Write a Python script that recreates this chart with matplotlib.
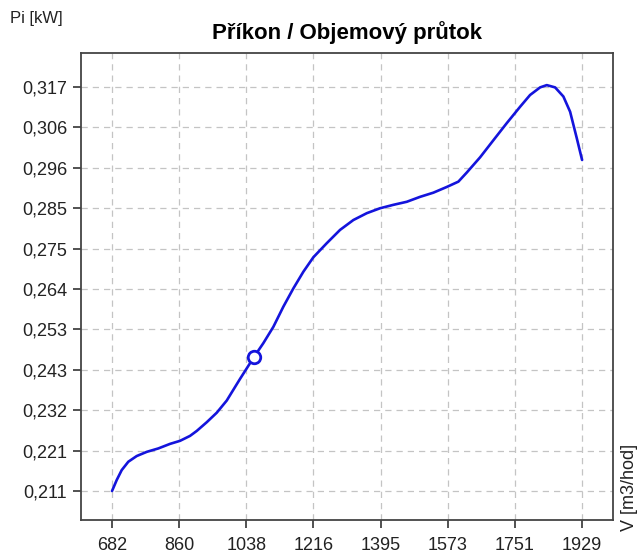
import matplotlib
matplotlib.use("Agg")
import matplotlib.pyplot as plt

plt.rcParams['font.family'] = ['Liberation Sans', 'DejaVu Sans']

# Data
flow = [682, 694.5, 707.7, 725.2, 747.5, 774.1, 804.8, 835.9, 862.4, 888.9,
        906.7, 933.3, 959.8, 986.3, 1012.9, 1021.6, 1058.8, 1083.4, 1110.0,
        1136.5, 1163.0, 1189.6, 1216.1, 1251.6, 1286.9, 1322.2, 1357.8, 1393.1,
        1428.4, 1463.9, 1499.2, 1534.5, 1570.0, 1600.8, 1623.1, 1658.4, 1693.7,
        1729.2, 1764.5, 1791.0, 1817.6, 1835.3, 1857.4, 1879.4, 1897.2, 1915.0,
        1929.0]
power = [0.2108, 0.2137, 0.2163, 0.2185, 0.2200, 0.2211, 0.2220, 0.2232, 0.2240,
         0.2253, 0.2266, 0.2289, 0.2314, 0.2346, 0.2389, 0.2403, 0.2461, 0.2497,
         0.2540, 0.2593, 0.2641, 0.2685, 0.2723, 0.2760, 0.2795, 0.2821, 0.2839,
         0.2852, 0.2861, 0.2869, 0.2882, 0.2893, 0.2908, 0.2922, 0.2946, 0.2986,
         0.3031, 0.3076, 0.3119, 0.3150, 0.3170, 0.3176, 0.3170, 0.3146, 0.3106,
         0.3036, 0.2979]
op_flow = [1058.8]
op_power = [0.2461]

xtick_vals = [682, 860.14, 1038.29, 1216.43, 1394.57, 1572.71, 1750.86, 1929]
xtick_labels = ['682', '860', '1038', '1216', '1395', '1573', '1751', '1929']
ytick_vals = [0.2108, 0.22143, 0.23206, 0.24269, 0.25332, 0.26395, 0.27458,
              0.28521, 0.29584, 0.30647, 0.3171]
ytick_labels = ['0,211', '0,221', '0,232', '0,243', '0,253', '0,264', '0,275',
                '0,285', '0,296', '0,306', '0,317']

fig = plt.figure(figsize=(6.39, 5.56), dpi=100)
ax = fig.add_axes([81/639, 1 - 520/556, (613-81)/639, (520-53)/556])

ax.plot(flow, power, color='#1414dc', lw=1.9, solid_joinstyle='round',
        solid_capstyle='round', zorder=3)
ax.plot(op_flow, op_power, 'o', ms=9, mfc='white', mec='#1414dc', mew=2, zorder=4)

ax.set_xlim(599.7, 2011)
ax.set_ylim(0.20317, 0.32605)
ax.set_xticks(xtick_vals)
ax.set_xticklabels(xtick_labels)
ax.set_yticks(ytick_vals)
ax.set_yticklabels(ytick_labels)

ax.grid(True, color='#c4c4c4', linestyle=(0, (5, 4)), lw=0.9)
ax.set_axisbelow(True)
for s in ax.spines.values():
    s.set_color('#444444')
    s.set_linewidth(1.3)
ax.tick_params(axis='both', direction='out', length=6, width=1.2, color='#333333',
               labelsize=13, labelcolor='#222222', pad=4)
ax.tick_params(axis='x', length=6, pad=6)

ax.set_title('Příkon / Objemový průtok', fontsize=16, fontweight='bold', pad=0,
             y=1 + 20/467, va='center')
fig.text(10/639, 1 - 18/556, 'Pi [kW]', fontsize=12, color='#222222', va='center', ha='left')
fig.text(630/639, 1 - 487/556, 'V [m3/hod]', fontsize=13, color='#222222', rotation=90,
         va='center', ha='center')

fig.savefig('out.png', dpi=100)
